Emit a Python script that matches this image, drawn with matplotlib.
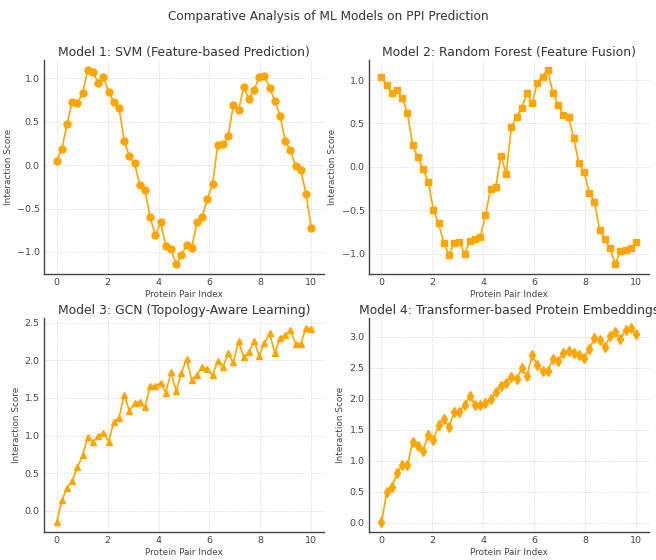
import numpy as np
import matplotlib
matplotlib.use("Agg")
import matplotlib.pyplot as plt

x = np.linspace(0, 10, 50)

svm_scores = [0.05, 0.19, 0.47, 0.73, 0.71, 0.83, 1.10, 1.07, 0.95, 1.02,
              0.84, 0.73, 0.66, 0.28, 0.10, 0.02, -0.23, -0.29, -0.60, -0.81,
              -0.66, -0.93, -0.97, -1.14, -1.04, -0.92, -0.95, -0.66, -0.60, -0.39,
              -0.22, 0.23, 0.24, 0.33, 0.69, 0.63, 0.90, 0.76, 0.87, 1.02,
              1.03, 0.89, 0.74, 0.57, 0.28, 0.17, -0.01, -0.06, -0.33, -0.72]

rf_scores = [1.03, 0.94, 0.85, 0.88, 0.79, 0.62, 0.25, 0.11, -0.03, -0.17,
             -0.50, -0.65, -0.88, -1.01, -0.88, -0.87, -1.00, -0.85, -0.83, -0.81,
             -0.56, -0.26, -0.23, 0.13, -0.08, 0.46, 0.57, 0.68, 0.85, 0.73,
             0.97, 1.04, 1.12, 0.85, 0.71, 0.60, 0.58, 0.33, 0.04, -0.06,
             -0.30, -0.40, -0.73, -0.83, -0.94, -1.12, -0.97, -0.96, -0.94, -0.87]

gcn_scores = [-0.15, 0.14, 0.31, 0.40, 0.58, 0.74, 0.98, 0.91, 1.00, 1.04,
              0.92, 1.18, 1.24, 1.54, 1.33, 1.43, 1.45, 1.38, 1.66, 1.66,
              1.70, 1.57, 1.84, 1.59, 1.83, 2.02, 1.74, 1.81, 1.91, 1.88,
              1.80, 1.99, 1.91, 2.09, 1.97, 2.25, 2.04, 2.11, 2.25, 2.06,
              2.23, 2.36, 2.09, 2.30, 2.33, 2.40, 2.22, 2.22, 2.43, 2.42]

transformer_scores = [0.01, 0.49, 0.57, 0.81, 0.93, 0.93, 1.30, 1.24, 1.16, 1.42,
                      1.33, 1.58, 1.67, 1.54, 1.79, 1.79, 1.89, 2.05, 1.89, 1.89,
                      1.93, 1.99, 2.11, 2.21, 2.25, 2.35, 2.31, 2.49, 2.36, 2.70,
                      2.54, 2.44, 2.44, 2.64, 2.61, 2.74, 2.76, 2.74, 2.70, 2.66,
                      2.80, 2.97, 2.94, 2.83, 3.01, 3.07, 2.96, 3.11, 3.14, 3.04]

titles = ["Model 1: SVM (Feature-based Prediction)",
          "Model 2: Random Forest (Feature Fusion)",
          "Model 3: GCN (Topology-Aware Learning)",
          "Model 4: Transformer-based Protein Embeddings"]
markers = ["o", "s", "^", "d"]
series = [svm_scores, rf_scores, gcn_scores, transformer_scores]

text_color = "#444444"
plt.rcParams.update({
    "font.family": "DejaVu Sans",
    "text.color": text_color,
    "axes.labelcolor": text_color,
    "xtick.color": text_color,
    "ytick.color": text_color,
})

fig, axes = plt.subplots(2, 2, figsize=(6.56, 5.6), dpi=100)
fig.subplots_adjust(left=0.067, right=0.989, top=0.893, bottom=0.05,
                    wspace=0.16, hspace=0.207)

for ax, ys, t, m in zip(axes.flat, series, titles, markers):
    ax.plot(x, ys, color="orange", marker=m, markersize=5, linewidth=1.2)
    ax.set_title(t, fontsize=8.9, color="#333333", pad=3)
    ax.set_xlabel("Protein Pair Index", fontsize=6.4, labelpad=2)
    ax.set_ylabel("Interaction Score", fontsize=6.4, labelpad=3)
    ax.tick_params(labelsize=6.8, length=0, pad=3)
    ax.grid(True, linestyle=":", linewidth=0.6, color="#cccccc")
    for s in ["top", "right"]:
        ax.spines[s].set_visible(False)
    for s in ["left", "bottom"]:
        ax.spines[s].set_color("#444444")
        ax.spines[s].set_linewidth(1.0)

fig.suptitle("Comparative Analysis of ML Models on PPI Prediction",
             fontsize=8.7, color="#333333", y=0.982)

fig.savefig("out.png", dpi=100)
